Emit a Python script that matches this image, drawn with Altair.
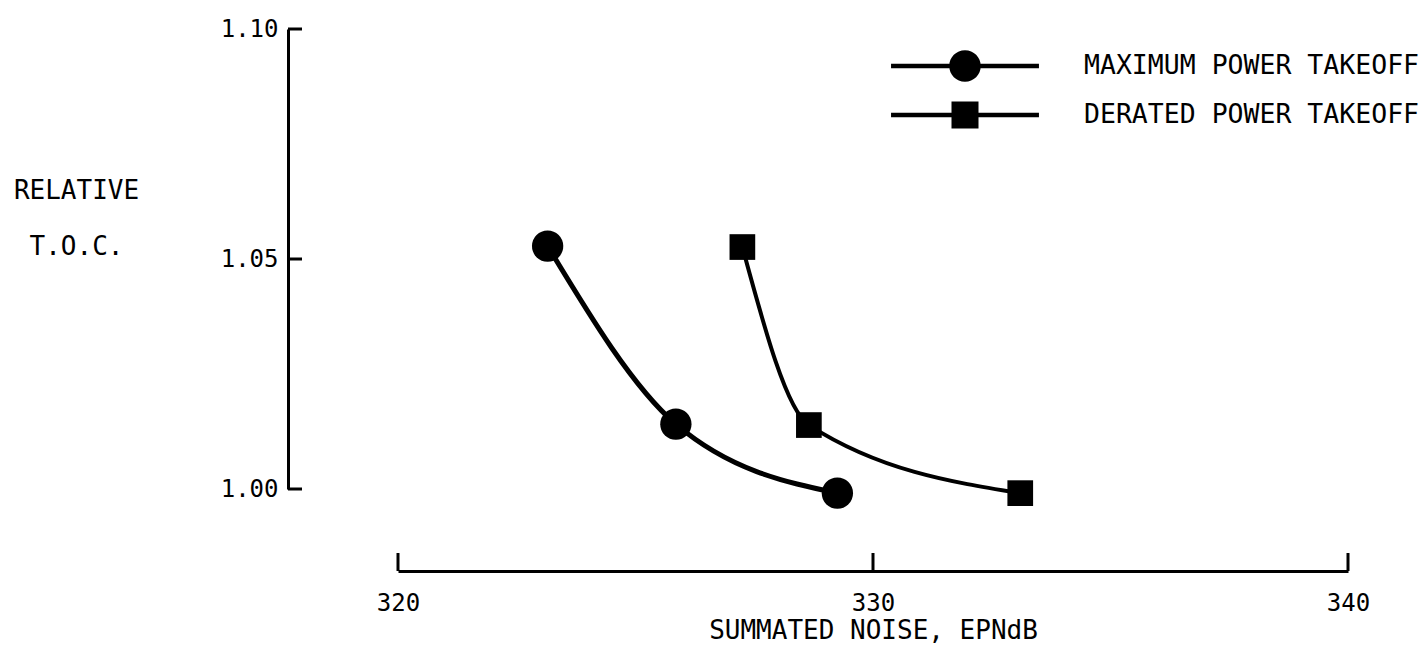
import altair as alt
import pandas as pd

# ---- data ----
series = ["MAXIMUM POWER TAKEOFF", "DERATED POWER TAKEOFF"]
x_max = [323.15, 325.85, 329.25]
y_max = [1.0528, 1.0141, 0.9991]
x_der = [327.25, 328.65, 333.1]
y_der = [1.0526, 1.0139, 0.9991]
x_ticks = [320, 330, 340]
y_ticks = [1.00, 1.05, 1.10]

FONT = "DejaVu Sans Mono"
FS = 24
FT = 26
FL = 26.5

df = pd.DataFrame({
    "x": x_max + x_der,
    "y": y_max + y_der,
    "s": [series[0]] * len(x_max) + [series[1]] * len(x_der),
})
df_xt = pd.DataFrame({"v": x_ticks})
df_yt = pd.DataFrame({"v": y_ticks})

W, H = 950, 460
XOFF, YOFF = 82, 110

xscale = alt.Scale(domain=[320, 340], nice=False, zero=False)
yscale = alt.Scale(domain=[1.00, 1.10], nice=False, zero=False)

xaxis = alt.Axis(values=x_ticks, format="d", offset=XOFF, domainWidth=3,
                 domainColor="black", ticks=False, grid=False, labelFlush=False,
                 labelFont=FONT, labelFontSize=FS, labelColor="black", labelPadding=20,
                 title="SUMMATED NOISE, EPNdB", titleFont=FONT, titleFontSize=FT,
                 titleFontWeight="normal", titleColor="black", titlePadding=2)
yaxis = alt.Axis(values=y_ticks, format=".2f", offset=YOFF, domainWidth=3,
                 domainColor="black", ticks=False, grid=False, labelFlush=False,
                 labelFont=FONT, labelFontSize=FS, labelColor="black", labelPadding=10,
                 title=["RELATIVE", "T.O.C."], titleFont=FONT, titleFontSize=FT,
                 titleFontWeight="normal", titleColor="black", titleAngle=0,
                 titleAlign="center", titleBaseline="middle", titleLineHeight=56,
                 titleX=-212, titleY=161)

X = alt.X("x:Q", scale=xscale, axis=xaxis)
Y = alt.Y("y:Q", scale=yscale, axis=yaxis)

line_max = alt.Chart(df).transform_filter(alt.datum.s == series[0]).mark_line(
    interpolate="monotone", color="black", strokeWidth=5).encode(x=X, y=Y)
line_der = alt.Chart(df).transform_filter(alt.datum.s == series[1]).mark_line(
    interpolate="monotone", color="black", strokeWidth=4).encode(x=X, y=Y)

circles = alt.Chart(df).transform_filter(alt.datum.s == series[0]).mark_point(
    shape="circle", filled=True, color="black", opacity=1, size=980).encode(x=X, y=Y)
squares = alt.Chart(df).transform_filter(alt.datum.s == series[1]).mark_point(
    shape="square", filled=True, color="black", opacity=1, size=660).encode(x=X, y=Y)

xt = alt.Chart(df_xt).mark_rule(color="black", strokeWidth=3).encode(
    x=alt.X("v:Q", scale=xscale, axis=xaxis),
    y=alt.value(H + XOFF), y2=alt.value(H + XOFF - 18))
yt = alt.Chart(df_yt).mark_rule(color="black", strokeWidth=3).encode(
    y=alt.Y("v:Q", scale=yscale, axis=yaxis),
    x=alt.value(-YOFF), x2=alt.value(-YOFF + 14))

# legend symbols: a line with a marker on it (custom SVG paths, unit = sqrt(size)/2)
circ_path = ("M-4.93,-0.15H4.93V0.15H-4.93Z"
             "M1.05,0A1.05,1.05 0 1,1 -1.05,0A1.05,1.05 0 1,1 1.05,0Z")
sq_path = "M-4.93,-0.15H4.93V0.15H-4.93ZM-0.9,-0.9H0.9V0.9H-0.9Z"

legend_layer = alt.Chart(df).transform_filter("false").mark_point(
    filled=True, color="black", opacity=1).encode(
    x=X, y=Y,
    shape=alt.Shape("s:N", scale=alt.Scale(domain=series, range=[circ_path, sq_path]),
                    legend=alt.Legend(orient="none", legendX=552, legendY=22, title=None,
                                      symbolSize=900, symbolStrokeWidth=0,
                                      symbolFillColor="black",
                                      symbolOpacity=1, labelFont=FONT, labelFontSize=FL,
                                      labelColor="black", labelOffset=104, labelLimit=500,
                                      rowPadding=18, padding=0)))

chart = alt.layer(line_max, line_der, circles, squares, xt, yt, legend_layer).properties(
    width=W, height=H,
    autosize=alt.AutoSizeParams(type="none"),
    padding={"left": 398, "top": 29, "right": 75, "bottom": 165},
).configure(background="white").configure_view(strokeWidth=0, stroke=None)

chart.save("out.html", embed_options={"renderer": "svg", "actions": False})
